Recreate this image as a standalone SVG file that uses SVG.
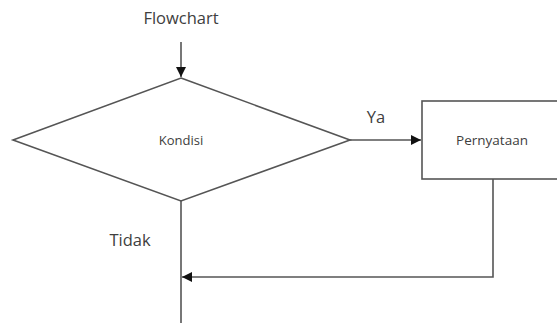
<svg xmlns="http://www.w3.org/2000/svg" width="557" height="323" viewBox="0 0 557 323">
  <style>
    .shape { fill: #ffffff; stroke: #555555; stroke-width: 1.6; }
    .line { fill: none; stroke: #555555; stroke-width: 1.6; }
    .label { font-family: "Open Sans", "Liberation Sans", sans-serif; fill: #404040; }
  </style>
  <defs>
    <marker id="arrow" viewBox="0 0 10 10" refX="10" refY="5" markerWidth="10" markerHeight="10" markerUnits="userSpaceOnUse" orient="auto">
      <path d="M0,0 L10,5 L0,10 Z" fill="#111111"/>
    </marker>
  </defs>
  <rect width="557" height="323" fill="#ffffff"/>

  <text class="label" x="181" y="24" font-size="16.5" text-anchor="middle">Flowchart</text>

  <g id="connectors">
    <line class="line" x1="181" y1="42" x2="181" y2="77" marker-end="url(#arrow)"/>
    <line class="line" x1="350" y1="140" x2="421" y2="140" marker-end="url(#arrow)"/>
    <polyline class="line" points="493,179 493,277 182,277" marker-end="url(#arrow)"/>
    <line class="line" x1="181" y1="201" x2="181" y2="323"/>
  </g>

  <g id="kondisi">
    <polygon class="shape" points="181,78 350,140 181,201 13,140"/>
    <text class="label" x="181" y="145" font-size="13" text-anchor="middle">Kondisi</text>
  </g>

  <g id="pernyataan">
    <rect class="shape" x="422" y="101" width="145" height="78"/>
    <text class="label" x="492" y="145" font-size="13.5" text-anchor="middle">Pernyataan</text>
  </g>

  <text class="label" x="376" y="123" font-size="16.5" text-anchor="middle">Ya</text>
  <text class="label" x="130" y="246" font-size="16.5" text-anchor="middle">Tidak</text>
</svg>
